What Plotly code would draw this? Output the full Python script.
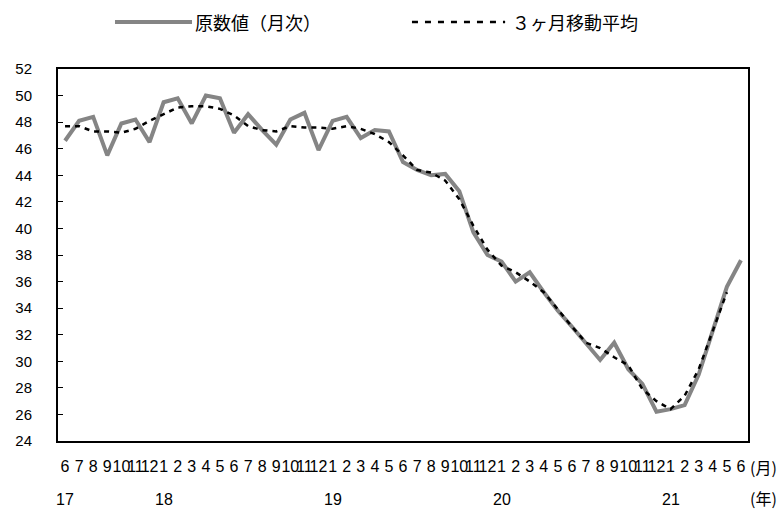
import plotly.graph_objects as go

months = ["6","7","8","9","10","11","12",
          "1","2","3","4","5","6","7","8","9","10","11","12",
          "1","2","3","4","5","6","7","8","9","10","11","12",
          "1","2","3","4","5","6","7","8","9","10","11","12",
          "1","2","3","4","5","6"]
years = ["17", "18", "19", "20", "21"]
year_pos = [0, 7, 19, 31, 43]

raw = [46.6, 48.1, 48.4, 45.5, 47.9, 48.2, 46.5,
       49.5, 49.8, 47.9, 50.0, 49.8, 47.2, 48.6, 47.4, 46.3, 48.2, 48.7, 45.9,
       48.1, 48.4, 46.8, 47.4, 47.3, 45.0, 44.4, 44.0, 44.1, 42.8, 39.7, 38.0,
       37.5, 36.0, 36.7, 35.2, 33.8, 32.6, 31.4, 30.1, 31.4, 29.4, 28.3, 26.2,
       26.4, 26.7, 29.0, 32.4, 35.6, 37.6]
ma3 = [47.7, 47.7, 47.3, 47.3, 47.2, 47.5, 48.1,
       48.6, 49.1, 49.2, 49.2, 49.0, 48.5, 47.7, 47.4, 47.3, 47.7, 47.6, 47.6,
       47.5, 47.7, 47.5, 47.1, 46.5, 45.5, 44.4, 44.2, 43.6, 42.2, 40.2, 38.4,
       37.2, 36.7, 36.0, 35.2, 33.9, 32.6, 31.4, 31.0, 30.3, 29.7, 27.9, 27.0,
       26.4, 27.4, 29.4, 32.3, 35.2, None]

x = list(range(len(months)))

JP = "Noto Sans CJK JP"
NUM = "Liberation Sans, Arial"

fig = go.Figure()
fig.add_trace(go.Scatter(x=x, y=raw, mode="lines", name="原数値（月次）",
                         line=dict(color="#858585", width=4), showlegend=False))
fig.add_trace(go.Scatter(x=x, y=ma3, mode="lines", name="３ヶ月移動平均",
                         line=dict(color="black", width=2.5, dash="5px,5px"),
                         showlegend=False, connectgaps=False))

LY = 1.1263
# legend drawn manually
fig.add_shape(type="line", xref="paper", yref="paper", x0=0.0826, x1=0.1942,
              y0=LY, y1=LY, line=dict(color="#858585", width=4))
fig.add_annotation(xref="paper", yref="paper", x=0.195, y=LY, xanchor="left",
                   yanchor="middle", text="原数値（月次）", showarrow=False,
                   font=dict(family=JP, size=18, color="black"))
fig.add_shape(type="line", xref="paper", yref="paper", x0=0.513, x1=0.648,
              y0=LY, y1=LY, line=dict(color="black", width=2.5, dash="6px,7px"))
fig.add_annotation(xref="paper", yref="paper", x=0.655, y=LY, xanchor="left",
                   yanchor="middle", text="３ヶ月移動平均", showarrow=False,
                   font=dict(family=JP, size=18, color="black"))

for yv, yp in zip(years, year_pos):
    fig.add_annotation(xref="x", yref="paper", x=yp, y=-0.1586, text=yv,
                       showarrow=False, xanchor="center", yanchor="middle",
                       font=dict(family=NUM, size=16, color="black"))
fig.add_annotation(xref="paper", yref="paper", x=1.0, y=-0.070, text="(月)",
                   showarrow=False, xanchor="left", yanchor="middle",
                   font=dict(family=JP, size=16, color="black"))
fig.add_annotation(xref="paper", yref="paper", x=1.0, y=-0.152, text="(年)",
                   showarrow=False, xanchor="left", yanchor="middle",
                   font=dict(family=JP, size=16, color="black"))

fig.update_layout(
    width=781, height=509,
    margin=dict(l=58, r=33, t=69, b=68),
    paper_bgcolor="white", plot_bgcolor="white",
    font=dict(family=NUM, size=15, color="black"),
    showlegend=False,
)
fig.update_xaxes(range=[-0.5, 48.5], tickmode="array", tickvals=x, ticktext=months,
                 tickangle=0, showgrid=False, zeroline=False, showline=True,
                 linecolor="black", linewidth=2, mirror=True, ticks="",
                 ticklabelstandoff=10, tickfont=dict(family=NUM, size=16))
fig.update_yaxes(range=[24, 52], dtick=2, tick0=24, showgrid=False, zeroline=False,
                 showline=True, linecolor="black", linewidth=2, mirror=True,
                 ticks="inside", ticklen=5, tickcolor="black", tickwidth=1,
                 ticklabelstandoff=21, tickfont=dict(family=NUM, size=15))

fig.write_html("out.html", config={"displayModeBar": False},
               post_script="document.body.style.margin='0px';document.body.style.overflow='hidden';")
